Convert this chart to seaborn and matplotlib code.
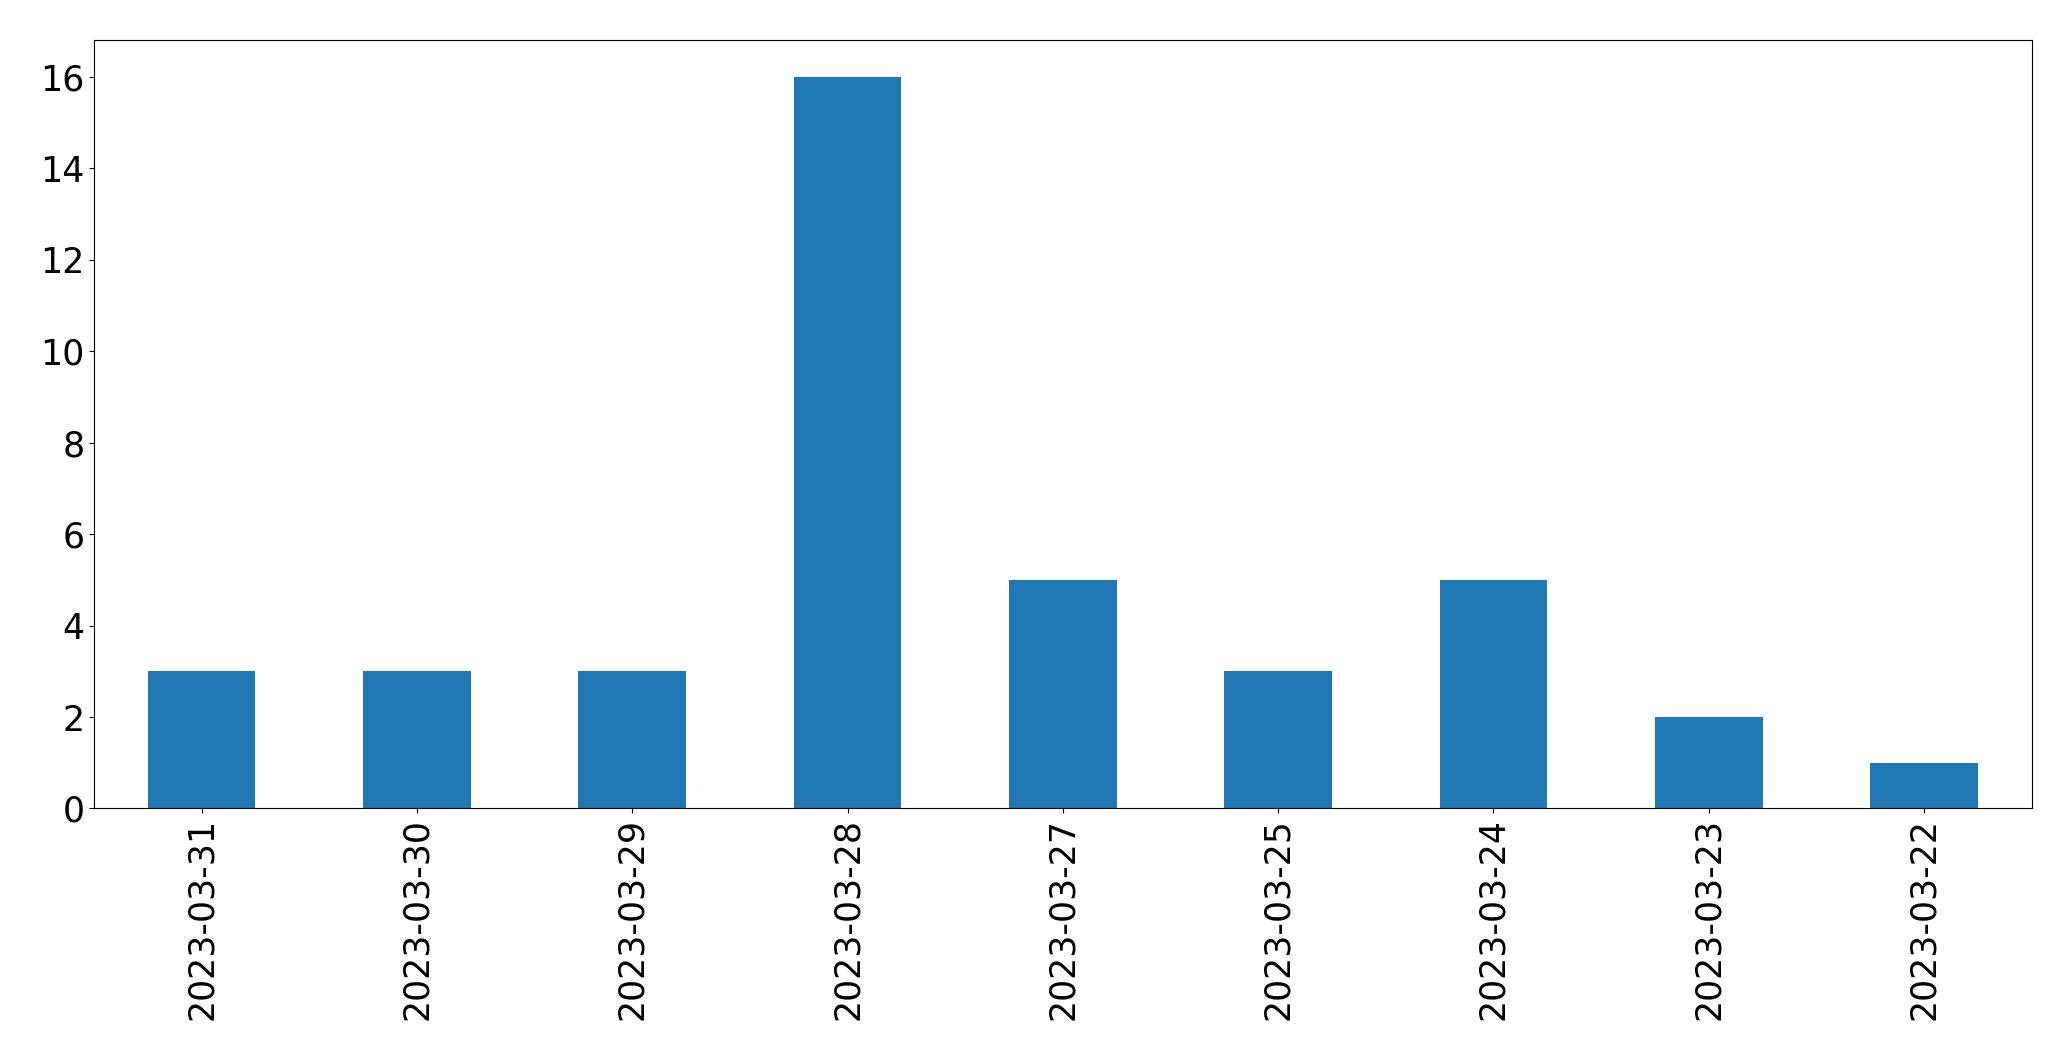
import pandas as pd
import matplotlib
matplotlib.use("Agg")
import matplotlib.pyplot as plt
import seaborn as sns

dates = ["2023-03-31", "2023-03-30", "2023-03-29", "2023-03-28", "2023-03-27",
         "2023-03-25", "2023-03-24", "2023-03-23", "2023-03-22"]
counts = [3, 3, 3, 16, 5, 3, 5, 2, 1]

df = pd.DataFrame({"date": dates, "count": counts})

fig = plt.figure(figsize=(20.71, 10.61), dpi=100)
ax = fig.add_axes([0.0454, 0.238, 0.9356, 0.724])

sns.barplot(x="date", y="count", data=df, ax=ax, color="#1f77b4",
            saturation=1, width=0.5, order=dates)

ax.set_xlim(-0.5, len(dates) - 0.5)
ax.set_ylim(0, 16.8)
ax.set_xlabel("")
ax.set_ylabel("")
ax.tick_params(axis="x", labelrotation=90, labelsize=25)
ax.tick_params(axis="y", labelsize=25)

plt.savefig("out.png", dpi=100)
plt.close()
